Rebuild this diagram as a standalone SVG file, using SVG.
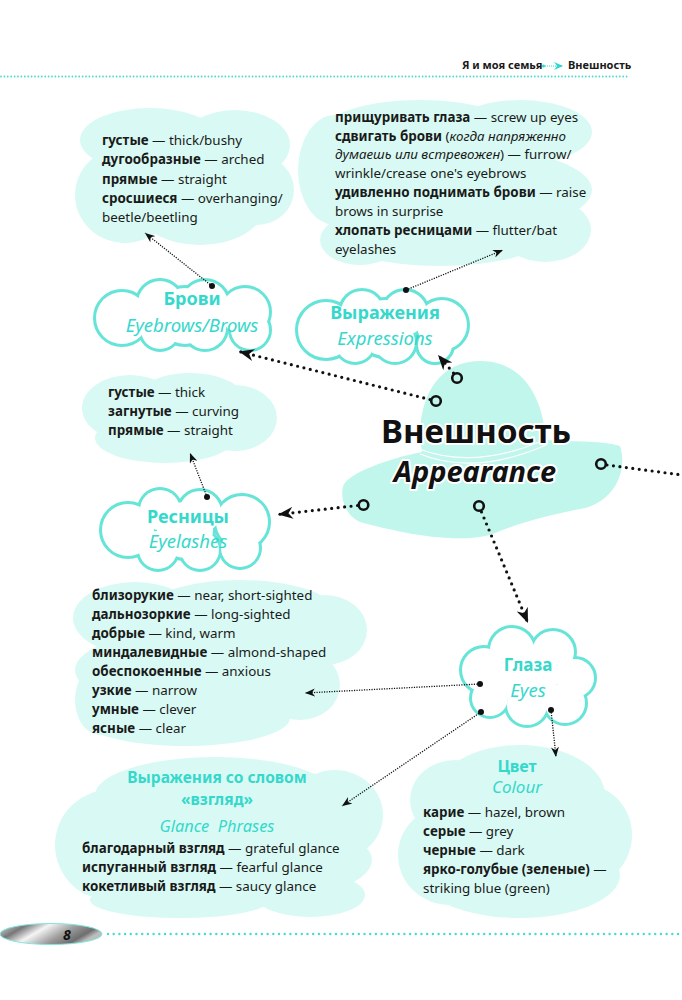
<svg xmlns="http://www.w3.org/2000/svg" width="682" height="1000" viewBox="0 0 682 1000">
<style>
.t{font-family:"Noto Sans","Open Sans",sans-serif;font-size:13.4px;fill:#1a1a1a}
.b{font-weight:bold}
.i{font-style:italic}
.ttl{font-family:"Noto Sans","Open Sans",sans-serif;fill:#36d8cb;font-weight:bold;font-size:18px;text-anchor:middle}
.sub{font-family:"Noto Sans","Open Sans",sans-serif;fill:#36d8cb;font-style:italic;font-size:18.5px;text-anchor:middle}
.cf{fill:#d9faf4}
.thin{fill:none;stroke:#111;stroke-width:1.3;stroke-dasharray:1.2 1.3;marker-end:url(#ahT)}
.bold{fill:none;stroke:#111;stroke-width:3.2;stroke-linecap:round;stroke-dasharray:0 6.5;marker-end:url(#ahB)}
.hc{fill:none;stroke:#111;stroke-width:2.6}
.main{font-family:"Noto Sans","Open Sans",sans-serif;font-weight:bold;fill:#111;stroke:#fff;stroke-width:4;paint-order:stroke;stroke-linejoin:round;text-anchor:middle}
</style>
<defs>
<marker id="ahB" markerUnits="userSpaceOnUse" markerWidth="16" markerHeight="12" refX="15" refY="6" orient="auto"><path d="M0,0 L15,6 L0,12 L4.5,6 Z" fill="#111"/></marker>
<marker id="ahT" markerUnits="userSpaceOnUse" markerWidth="10" markerHeight="8" refX="10" refY="4" orient="auto"><path d="M0,0 L10,4 L0,8 L3,4 Z" fill="#111"/></marker>
<marker id="ahC" markerUnits="userSpaceOnUse" markerWidth="10" markerHeight="8" refX="9" refY="4" orient="auto"><path d="M0,0 L9,4 L0,8 L3,4 Z" fill="#2fd6c9"/></marker>
<linearGradient id="pill" x1="0" y1="0" x2="1" y2="0.35">
<stop offset="0" stop-color="#e6e6e6"/><stop offset="0.25" stop-color="#777"/><stop offset="0.45" stop-color="#f5f5f5"/><stop offset="0.7" stop-color="#9c9c9c"/><stop offset="0.9" stop-color="#6e6e6e"/><stop offset="1" stop-color="#bdbdbd"/>
</linearGradient>
<g id="cBrovi"><circle cx="122" cy="318" r="26"/><circle cx="160" cy="303" r="22"/><circle cx="205" cy="304" r="23"/><circle cx="245" cy="312" r="24"/><circle cx="250" cy="330" r="19"/><circle cx="205" cy="328" r="21"/><circle cx="160" cy="330" r="19"/><circle cx="185" cy="316" r="28"/></g>
<g id="cExpr"><circle cx="326" cy="330" r="28"/><circle cx="362" cy="312" r="21"/><circle cx="405" cy="313" r="22"/><circle cx="442" cy="325" r="25"/><circle cx="435" cy="345" r="17"/><circle cx="395" cy="342" r="20"/><circle cx="355" cy="343" r="19"/><circle cx="385" cy="328" r="28"/></g>
<g id="cResn"><circle cx="128" cy="530" r="26"/><circle cx="160" cy="510" r="20"/><circle cx="200" cy="512" r="21"/><circle cx="242" cy="522" r="26"/><circle cx="240" cy="548" r="19"/><circle cx="200" cy="550" r="19"/><circle cx="158" cy="550" r="19"/><circle cx="185" cy="530" r="28"/></g>
<g id="cGlaza"><circle cx="484" cy="670" r="22"/><circle cx="512" cy="650" r="22"/><circle cx="553" cy="652" r="21"/><circle cx="575" cy="678" r="19"/><circle cx="565" cy="703" r="20"/><circle cx="527" cy="705" r="20"/><circle cx="490" cy="698" r="18"/><circle cx="528" cy="676" r="30"/></g>
</defs>
<rect width="682" height="1000" fill="#fff"/>

<g id="header">
<line x1="1" y1="76.5" x2="629" y2="76.5" stroke="#44dccf" stroke-width="1.8" stroke-linecap="round" stroke-dasharray="0 3.4"/>
<text class="t b" x="462" y="69" style="font-size:11px">Я и моя семья</text>
<circle cx="543.5" cy="66" r="1.5" fill="#2fd6c9"/>
<line x1="545" y1="66" x2="563" y2="66" stroke="#2fd6c9" stroke-width="1.2" stroke-dasharray="1 1" marker-end="url(#ahC)"/>
<text class="t b" x="568" y="69" style="font-size:11px">Внешность</text>
</g>

<g id="info-eyebrows">
<g class="cf"><ellipse cx="150" cy="140" rx="70" ry="32"/><ellipse cx="235" cy="145" rx="55" ry="35"/><ellipse cx="125" cy="195" rx="50" ry="48"/><ellipse cx="200" cy="205" rx="65" ry="40"/><ellipse cx="257" cy="190" rx="37" ry="35"/></g>
<text class="t" x="102" y="145"><tspan class="b">густые</tspan> — thick/bushy</text>
<text class="t" x="102" y="164"><tspan class="b">дугообразные</tspan> — arched</text>
<text class="t" x="102" y="184"><tspan class="b">прямые</tspan> — straight</text>
<text class="t" x="102" y="203"><tspan class="b">сросшиеся</tspan> — overhanging/</text>
<text class="t" x="102" y="222">beetle/beetling</text>
</g>

<g id="info-expressions">
<g class="cf"><ellipse cx="335" cy="170" rx="37" ry="55"/><ellipse cx="420" cy="130" rx="95" ry="30"/><ellipse cx="520" cy="132" rx="72" ry="32"/><ellipse cx="450" cy="190" rx="142" ry="45"/><ellipse cx="440" cy="240" rx="100" ry="26"/><ellipse cx="545" cy="230" rx="46" ry="32"/><ellipse cx="360" cy="240" rx="40" ry="25"/></g>
<text class="t" x="335" y="122"><tspan class="b">прищуривать глаза</tspan> — screw up eyes</text>
<text class="t" x="335" y="141"><tspan class="b">сдвигать брови</tspan> (<tspan class="i">когда напряженно</tspan></text>
<text class="t" x="335" y="159"><tspan class="i">думаешь или встревожен</tspan>) — furrow/</text>
<text class="t" x="335" y="178">wrinkle/crease one's eyebrows</text>
<text class="t" x="335" y="197"><tspan class="b">удивленно поднимать брови</tspan> — raise</text>
<text class="t" x="335" y="216">brows in surprise</text>
<text class="t" x="335" y="235"><tspan class="b">хлопать ресницами</tspan> — flutter/bat</text>
<text class="t" x="335" y="254">eyelashes</text>
</g>

<g id="info-eyelashes">
<g class="cf"><ellipse cx="130" cy="408" rx="48" ry="33"/><ellipse cx="190" cy="400" rx="55" ry="27"/><ellipse cx="235" cy="418" rx="42" ry="33"/><ellipse cx="165" cy="438" rx="70" ry="25"/></g>
<text class="t" x="108" y="397"><tspan class="b">густые</tspan> — thick</text>
<text class="t" x="108" y="416"><tspan class="b">загнутые</tspan> — curving</text>
<text class="t" x="108" y="435"><tspan class="b">прямые</tspan> — straight</text>
</g>

<g id="info-eyes">
<g class="cf"><ellipse cx="135" cy="618" rx="62" ry="36"/><ellipse cx="240" cy="612" rx="95" ry="32"/><ellipse cx="325" cy="630" rx="42" ry="35"/><ellipse cx="200" cy="670" rx="125" ry="42"/><ellipse cx="300" cy="685" rx="40" ry="35"/><ellipse cx="185" cy="718" rx="105" ry="28"/><ellipse cx="100" cy="700" rx="25" ry="35"/></g>
<text class="t" x="92" y="600"><tspan class="b">близорукие</tspan> — near, short-sighted</text>
<text class="t" x="92" y="619"><tspan class="b">дальнозоркие</tspan> — long-sighted</text>
<text class="t" x="92" y="638"><tspan class="b">добрые</tspan> — kind, warm</text>
<text class="t" x="92" y="657"><tspan class="b">миндалевидные</tspan> — almond-shaped</text>
<text class="t" x="92" y="676"><tspan class="b">обеспокоенные</tspan> — anxious</text>
<text class="t" x="92" y="695"><tspan class="b">узкие</tspan> — narrow</text>
<text class="t" x="92" y="714"><tspan class="b">умные</tspan> — clever</text>
<text class="t" x="92" y="733"><tspan class="b">ясные</tspan> — clear</text>
</g>

<g id="info-glance">
<g class="cf"><ellipse cx="215" cy="795" rx="120" ry="38"/><ellipse cx="335" cy="815" rx="48" ry="45"/><ellipse cx="110" cy="845" rx="55" ry="55"/><ellipse cx="230" cy="860" rx="142" ry="45"/><ellipse cx="180" cy="900" rx="90" ry="18"/><ellipse cx="310" cy="895" rx="55" ry="22"/></g>
<text class="ttl" x="217" y="783" style="font-size:15.5px">Выражения со словом</text>
<text class="ttl" x="217" y="805" style="font-size:15.5px">«взгляд»</text>
<text class="sub" x="217" y="832" style="font-size:16.4px" xml:space="preserve">Glance  Phrases</text>
<text class="t" x="82" y="853"><tspan class="b">благодарный взгляд</tspan> — grateful glance</text>
<text class="t" x="82" y="872"><tspan class="b">испуганный взгляд</tspan> — fearful glance</text>
<text class="t" x="82" y="891"><tspan class="b">кокетливый взгляд</tspan> — saucy glance</text>
</g>

<g id="info-colour">
<g class="cf"><ellipse cx="520" cy="795" rx="85" ry="50"/><ellipse cx="455" cy="800" rx="45" ry="40"/><ellipse cx="450" cy="855" rx="52" ry="50"/><ellipse cx="585" cy="835" rx="47" ry="50"/><ellipse cx="520" cy="875" rx="100" ry="43"/></g>
<text class="ttl" x="517" y="772" style="font-size:16px">Цвет</text>
<text class="sub" x="517" y="793" style="font-size:17px">Colour</text>
<text class="t" x="423" y="817"><tspan class="b">карие</tspan> — hazel, brown</text>
<text class="t" x="423" y="836"><tspan class="b">серые</tspan> — grey</text>
<text class="t" x="423" y="855"><tspan class="b">черные</tspan> — dark</text>
<text class="t" x="423" y="874"><tspan class="b">ярко-голубые (зеленые)</tspan> —</text>
<text class="t" x="423" y="893">striking blue (green)</text>
</g>

<g id="hat">
<path d="M343,487 C345,474 390,458 422,452 C416,420 425,362 480,361 C530,361 545,410 545,440 C570,442 600,440 620,446 C628,470 615,500 585,508 C550,515 520,522 490,535 C450,545 390,530 360,522 C345,515 340,497 343,487 Z" fill="#c0f6ec"/>
<path d="M419,449 Q475,470 544,440" fill="none" stroke="#fff" stroke-width="1.3"/>
<path d="M420,454 Q475,476 546,445" fill="none" stroke="#fff" stroke-width="1.3"/>
</g>

<g id="node-brovi">
<use href="#cBrovi" fill="none" stroke="#66e4d8" stroke-width="6"/>
<use href="#cBrovi" fill="#fff"/>
<text class="ttl" x="192" y="305">Брови</text>
<text class="sub" x="192" y="332">Eyebrows/Brows</text>
</g>
<g id="node-expressions">
<use href="#cExpr" fill="none" stroke="#66e4d8" stroke-width="6"/>
<use href="#cExpr" fill="#fff"/>
<text class="ttl" x="385" y="319">Выражения</text>
<text class="sub" x="385" y="345">Expressions</text>
</g>
<g id="node-resnitsy">
<use href="#cResn" fill="none" stroke="#66e4d8" stroke-width="6"/>
<use href="#cResn" fill="#fff"/>
<text class="ttl" x="188" y="523">Ресницы</text>
<text class="sub" x="188" y="548">Eyelashes</text>
</g>
<g id="node-glaza">
<use href="#cGlaza" fill="none" stroke="#66e4d8" stroke-width="6"/>
<use href="#cGlaza" fill="#fff"/>
<text class="ttl" x="528" y="671" style="font-size:17px">Глаза</text>
<text class="sub" x="528" y="697">Eyes</text>
</g>

<g id="connectors">
<path class="thin" d="M212,286 L145,233"/>
<path class="thin" d="M406,290 L503,250"/>
<path class="thin" d="M207,497 L190,453"/>
<path class="thin" d="M480,684 L305,693"/>
<path class="thin" d="M481,712 L342,806"/>
<path class="thin" d="M551,710 L556,757"/>
<g fill="#111"><circle cx="212" cy="286" r="3"/><circle cx="406" cy="290" r="3"/><circle cx="207" cy="497" r="3"/><circle cx="480" cy="684" r="3"/><circle cx="481" cy="712" r="3"/><circle cx="551" cy="710" r="3"/></g>
<path class="bold" d="M430,399.5 L239,351.5"/>
<path class="bold" d="M453.5,373 L438,355"/>
<path class="bold" d="M357.5,505.5 L278,514.5"/>
<path class="bold" d="M481.5,512 L528,623"/>
<path fill="none" stroke="#111" stroke-width="3.2" stroke-linecap="round" stroke-dasharray="0 6.5" d="M607,465 L682,475"/>
<circle class="hc" cx="436" cy="401" r="4.8"/>
<circle class="hc" cx="457" cy="378" r="4.8"/>
<circle class="hc" cx="601" cy="464" r="4.8"/>
<circle class="hc" cx="363.5" cy="505" r="4.8"/>
<circle class="hc" cx="479" cy="506" r="4.8"/>
</g>

<g id="node-main">
<text class="main" x="476" y="443" style="font-size:33px">Внешность</text>
<text class="main" x="475" y="482" style="font-size:29px;font-style:italic">Appearance</text>
</g>

<g id="footer">
<ellipse cx="51" cy="934" rx="51" ry="10.5" fill="url(#pill)" stroke="#7fe8de" stroke-width="1"/>
<text x="63" y="940" font-family="Noto Sans, sans-serif" font-weight="bold" font-style="italic" font-size="14" fill="#111">8</text>
<line x1="108" y1="934" x2="682" y2="934" stroke="#44dccf" stroke-width="2.4" stroke-linecap="round" stroke-dasharray="0 5.7"/>
</g>
</svg>
